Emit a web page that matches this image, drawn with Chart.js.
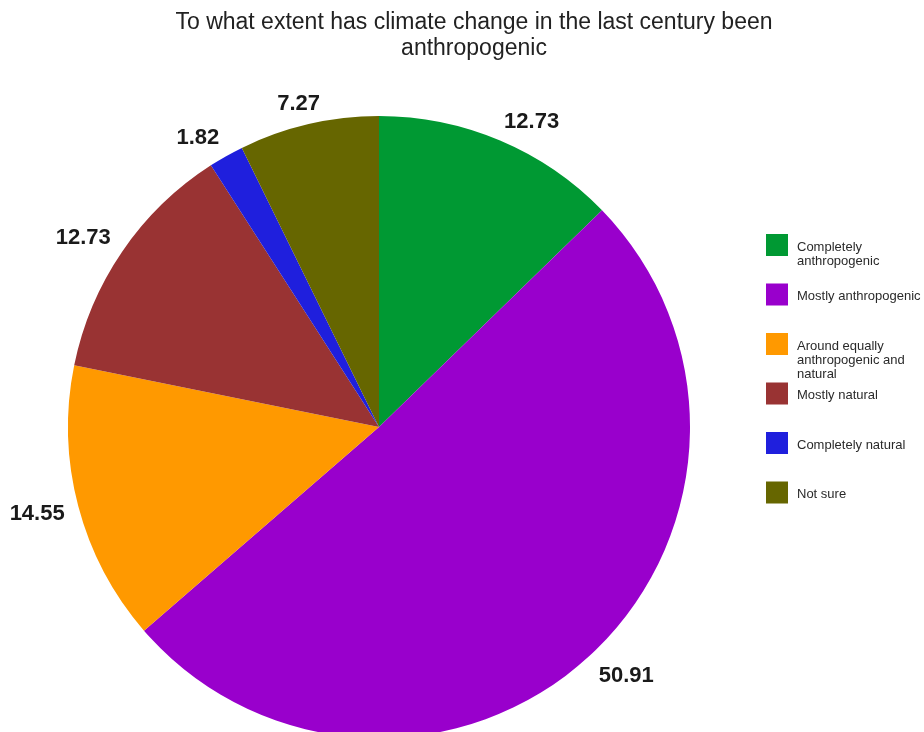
<!DOCTYPE html>
<html>
<head>
<meta charset="utf-8">
<title>Climate change attribution</title>
<script src="https://cdn.jsdelivr.net/npm/chart.js@4.4.1/dist/chart.umd.min.js"></script>
<style>
  html, body { margin: 0; padding: 0; background: #ffffff; overflow: hidden; }
  #wrap { width: 924px; height: 760px; }
</style>
</head>
<body>
<div id="wrap"><canvas id="pie" width="924" height="760"></canvas></div>
<script>
// Survey answers and their shares (percent)
const categories = [
  'Completely anthropogenic',
  'Mostly anthropogenic',
  'Around equally anthropogenic and natural',
  'Mostly natural',
  'Completely natural',
  'Not sure'
];
const shares = [12.73, 50.91, 14.55, 12.73, 1.82, 7.27];
const sliceColors = ['#009933', '#9900cc', '#ff9900', '#993333', '#1f1fdd', '#666600'];
const titleLines = ['To what extent has climate change in the last century been', 'anthropogenic'];

const FONT = '"Liberation Sans", Arial, Helvetica, sans-serif';

// Title drawn above the pie
const titlePlugin = {
  id: 'titleText',
  afterDraw(chart) {
    const ctx = chart.ctx;
    ctx.save();
    ctx.fillStyle = '#222222';
    ctx.font = '23px ' + FONT;
    ctx.textAlign = 'center';
    ctx.textBaseline = 'alphabetic';
    titleLines.forEach((line, i) => ctx.fillText(line, 474, 29 + i * 26));
    ctx.restore();
  }
};

// Eased alignment: 0 puts the text after the anchor, 1 before it
function alignFactor(d, span) {
  const t = Math.min(1, Math.abs(d) / span);
  return 0.5 - 0.5 * Math.sign(d) * t * t;
}

// Value labels placed just outside each slice
const valueLabels = {
  id: 'valueLabels',
  afterDatasetsDraw(chart) {
    const ctx = chart.ctx;
    const meta = chart.getDatasetMeta(0);
    const size = 22;
    ctx.save();
    ctx.font = 'bold ' + size + 'px ' + FONT;
    ctx.fillStyle = '#1a1a1a';
    ctx.textAlign = 'left';
    ctx.textBaseline = 'alphabetic';
    meta.data.forEach((arc, i) => {
      const p = arc.getProps(['x', 'y', 'startAngle', 'endAngle', 'outerRadius'], true);
      const mid = (p.startAngle + p.endAngle) / 2;
      const dx = Math.cos(mid), dy = Math.sin(mid);
      const r = p.outerRadius + 14;
      const ax = p.x + dx * r, ay = p.y + dy * r;
      const text = shares[i].toFixed(2);
      const w = ctx.measureText(text).width;
      const h = size * 0.72;
      const left = ax - w * alignFactor(dx, 0.4);
      const top = ay - h * alignFactor(dy, 0.5);
      ctx.fillText(text, left, top + h);
    });
    ctx.restore();
  }
};

// Legend on the right with wrapped labels
const sideLegend = {
  id: 'sideLegend',
  afterDraw(chart) {
    const ctx = chart.ctx;
    const ds = chart.data.datasets[0];
    const x0 = 766, box = 22, textX = 797, maxW = 125, lineH = 14;
    ctx.save();
    ctx.font = '13px ' + FONT;
    ctx.textBaseline = 'middle';
    ctx.textAlign = 'left';
    chart.data.labels.forEach((label, i) => {
      const top = 234 + i * 49.5;
      ctx.fillStyle = ds.backgroundColor[i];
      ctx.fillRect(x0, top, box, box);
      // wrap words to the available width
      const words = label.split(' ');
      const lines = [];
      let cur = '';
      words.forEach(wd => {
        const test = cur ? cur + ' ' + wd : wd;
        if (ctx.measureText(test).width > maxW && cur) { lines.push(cur); cur = wd; }
        else cur = test;
      });
      if (cur) lines.push(cur);
      ctx.fillStyle = '#2a2a2a';
      lines.forEach((ln, j) => ctx.fillText(ln, textX, top + box / 2 + 2 + j * lineH));
    });
    ctx.restore();
  }
};

new Chart(document.getElementById('pie'), {
  type: 'pie',
  data: {
    labels: categories,
    datasets: [{
      data: shares,
      backgroundColor: sliceColors,
      borderWidth: 0,
      hoverOffset: 0
    }]
  },
  options: {
    responsive: false,
    animation: false,
    events: [],
    layout: { padding: { left: 68, top: 116, right: 234, bottom: 22 } },
    plugins: {
      legend: { display: false },
      title: { display: false },
      tooltip: { enabled: false }
    }
  },
  plugins: [titlePlugin, valueLabels, sideLegend]
});
</script>
</body>
</html>
